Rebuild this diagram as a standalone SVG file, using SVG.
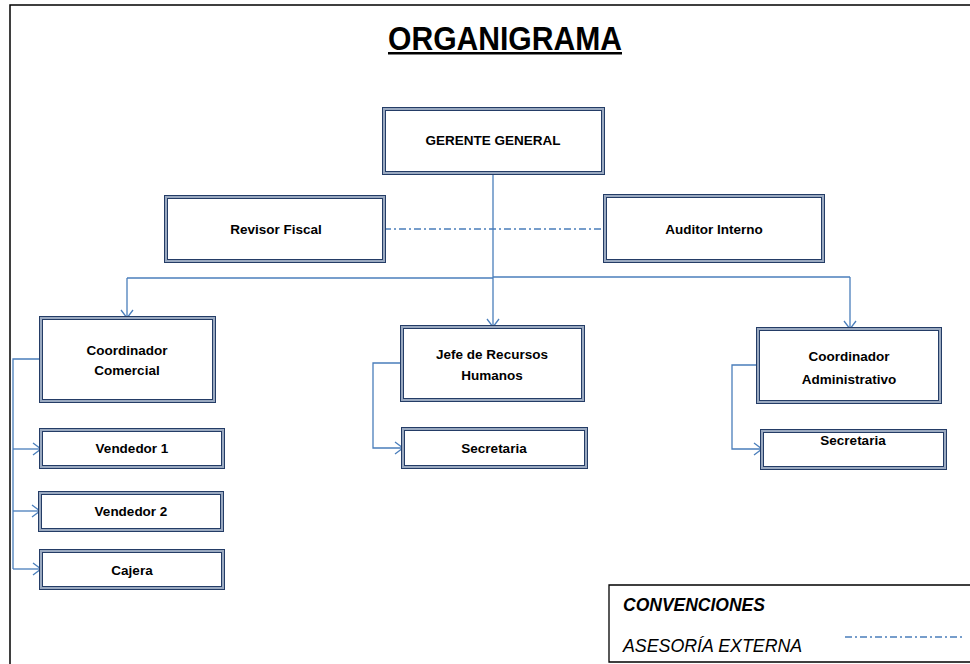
<svg xmlns="http://www.w3.org/2000/svg" width="970" height="664" viewBox="0 0 970 664">
<defs>
<style>
.box{fill:#fff;stroke:#243C66;stroke-width:4}
.boxin{fill:none;stroke:#9AA9C0;stroke-width:2}
.lbl{font-family:"Liberation Sans",Arial,sans-serif;font-weight:bold;font-size:13.5px;fill:#000;text-anchor:middle}
.con{fill:none;stroke:#4A7EBB;stroke-width:1.3}
.dd{fill:none;stroke:#4A7EBB;stroke-width:1.3;stroke-dasharray:7 3 2 3}
</style>
<marker id="arr" markerUnits="userSpaceOnUse" markerWidth="12" markerHeight="14" refX="9" refY="7" orient="auto">
<path d="M1,1 L9,7 L1,13" fill="none" stroke="#4A7EBB" stroke-width="1.3"/>
</marker>
</defs>
<rect x="0" y="0" width="970" height="664" fill="#fff"/>
<path d="M10 664 V5 H972" fill="none" stroke="#000" stroke-width="1.5"/>
<g id="title">
<text x="505" y="50" font-family="'Liberation Sans',Arial,sans-serif" font-weight="bold" font-size="34" text-anchor="middle" textLength="234" lengthAdjust="spacingAndGlyphs">ORGANIGRAMA</text>
<rect x="388" y="52" width="234" height="2.5" fill="#000"/>
</g>
<g id="connectors">
<path class="con" d="M493 173 V327" marker-end="url(#arr)"/>
<path class="con" d="M127 278 H493"/>
<path class="con" d="M493 277 H850"/>
<path class="con" d="M127 278 V318" marker-end="url(#arr)"/>
<path class="con" d="M850 277 V329" marker-end="url(#arr)"/>
<path class="dd" d="M384 229 H605"/>
<path class="con" d="M41 359 H13 V569"/>
<path class="con" d="M13 449 H41" marker-end="url(#arr)"/>
<path class="con" d="M13 511 H40" marker-end="url(#arr)"/>
<path class="con" d="M13 569 H41" marker-end="url(#arr)"/>
<path class="con" d="M402 363 H373 V448 H403" marker-end="url(#arr)"/>
<path class="con" d="M758 365 H732 V449 H762" marker-end="url(#arr)"/>
</g>
<g id="gerente">
<rect class="box" x="384" y="109" width="219" height="64"/><rect class="boxin" x="384" y="109" width="219" height="64"/>
<text class="lbl" x="493" y="145">GERENTE GENERAL</text>
</g>
<g id="revisor">
<rect class="box" x="166" y="197" width="218" height="64"/><rect class="boxin" x="166" y="197" width="218" height="64"/>
<text class="lbl" x="276" y="234">Revisor Fiscal</text>
</g>
<g id="auditor">
<rect class="box" x="605" y="196" width="218" height="65"/><rect class="boxin" x="605" y="196" width="218" height="65"/>
<text class="lbl" x="714" y="234">Auditor Interno</text>
</g>
<g id="coordComercial">
<rect class="box" x="41" y="318" width="173" height="83"/><rect class="boxin" x="41" y="318" width="173" height="83"/>
<text class="lbl" x="127" y="355">Coordinador</text>
<text class="lbl" x="127" y="375">Comercial</text>
</g>
<g id="vendedor1">
<rect class="box" x="41" y="430" width="182" height="37"/><rect class="boxin" x="41" y="430" width="182" height="37"/>
<text class="lbl" x="132" y="453">Vendedor 1</text>
</g>
<g id="vendedor2">
<rect class="box" x="40" y="493" width="182" height="37"/><rect class="boxin" x="40" y="493" width="182" height="37"/>
<text class="lbl" x="131" y="516">Vendedor 2</text>
</g>
<g id="cajera">
<rect class="box" x="41" y="551" width="182" height="37"/><rect class="boxin" x="41" y="551" width="182" height="37"/>
<text class="lbl" x="132" y="575">Cajera</text>
</g>
<g id="jefeRRHH">
<rect class="box" x="402" y="327" width="181" height="73"/><rect class="boxin" x="402" y="327" width="181" height="73"/>
<text class="lbl" x="492" y="359">Jefe de Recursos</text>
<text class="lbl" x="492" y="380">Humanos</text>
</g>
<g id="secretaria1">
<rect class="box" x="403" y="429" width="183" height="38"/><rect class="boxin" x="403" y="429" width="183" height="38"/>
<text class="lbl" x="494" y="453">Secretaria</text>
</g>
<g id="coordAdmin">
<rect class="box" x="758" y="329" width="182" height="73"/><rect class="boxin" x="758" y="329" width="182" height="73"/>
<text class="lbl" x="849" y="361">Coordinador</text>
<text class="lbl" x="849" y="384">Administrativo</text>
</g>
<g id="secretaria2">
<rect class="box" x="762" y="431" width="183" height="37"/><rect class="boxin" x="762" y="431" width="183" height="37"/>
<text class="lbl" x="853" y="445">Secretaria</text>
</g>
<g id="convenciones">
<path d="M972 585 H609 V662 H972" fill="none" stroke="#000" stroke-width="1.3"/>
<text x="623" y="611" font-family="'Liberation Sans',Arial,sans-serif" font-weight="bold" font-style="italic" font-size="17.5">CONVENCIONES</text>
<text x="623" y="652" font-family="'Liberation Sans',Arial,sans-serif" font-style="italic" font-size="17.8">ASESORÍA EXTERNA</text>
<path class="dd" d="M845 637 H962" stroke-dasharray="5 3 2 3"/>
</g>
</svg>
